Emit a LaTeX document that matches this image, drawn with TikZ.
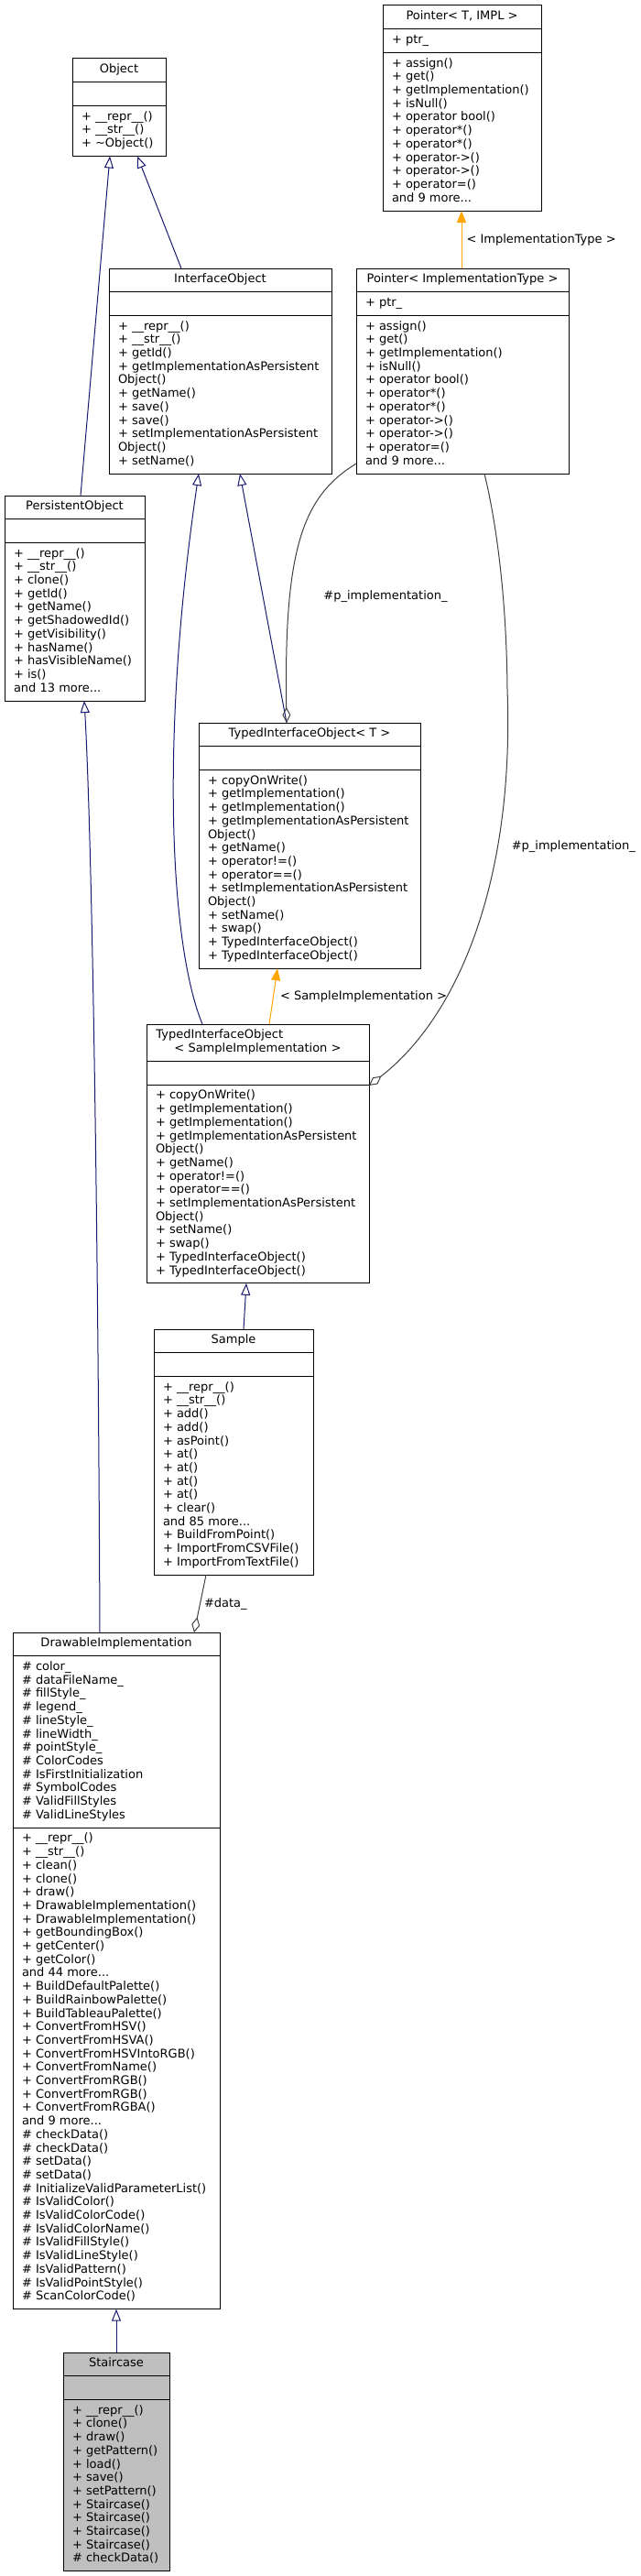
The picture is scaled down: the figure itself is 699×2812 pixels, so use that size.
\documentclass[tikz,border=0pt]{standalone}
\usepackage{fontspec}
\setmainfont{DejaVu Sans}
\usetikzlibrary{shapes.multipart,arrows.meta}
\definecolor{edgeblue}{HTML}{191970}
\definecolor{edgeorange}{HTML}{FFA500}
\definecolor{edgegray}{HTML}{404040}
\newcommand\memfont{\fontsize{13pt}{14.7pt}\selectfont}
\newcommand\rows[1]{\strut#1\strut}

\begin{document}
\begin{tikzpicture}[x=1pt, y=-1pt,
    classbox/.style={rectangle split, rectangle split parts=3, draw=black,
      line width=1pt, fill=white, anchor=north west, outer sep=0pt,
      inner xsep=10pt, inner ysep=5pt, font=\memfont, align=left,
      rectangle split part align={center,left,left}},
    inherit/.style={draw=edgeblue, line width=1pt,
      -{Triangle[open, length=13pt, width=10pt]}},
    templ/.style={draw=edgeorange, line width=1pt,
      -{Triangle[length=13pt, width=10pt]}},
    aggr/.style={draw=edgegray, line width=1pt,
      -{Diamond[open, length=17pt, width=9pt]}},
    elabel/.style={font=\memfont, inner sep=0pt}]
  \useasboundingbox (0,0) rectangle (699,2812);

  % classes
  \node[classbox, minimum width=102pt] (obj) at (79,64)
    {\rows{Object}
     \nodepart{two}\rows{}
     \nodepart{three}\rows{+ \_\_repr\_\_()\\ + \_\_str\_\_()\\ + \textasciitilde Object()}};

  \node[classbox, minimum width=173pt] (ptrT) at (418,6)
    {\rows{Pointer< T, IMPL >}
     \nodepart{two}\rows{+ ptr\_}
     \nodepart{three}\rows{+ assign()\\ + get()\\ + getImplementation()\\ + isNull()\\
       + operator bool()\\ + operator*()\\ + operator*()\\ + operator->()\\
       + operator->()\\ + operator=()\\ and 9 more...}};

  \node[classbox, minimum width=243pt] (iface) at (119,293)
    {\rows{InterfaceObject}
     \nodepart{two}\rows{}
     \nodepart{three}\rows{+ \_\_repr\_\_()\\ + \_\_str\_\_()\\ + getId()\\
       + getImplementationAsPersistent\\ Object()\\ + getName()\\ + save()\\ + save()\\
       + setImplementationAsPersistent\\ Object()\\ + setName()}};

  \node[classbox, minimum width=232pt] (ptrI) at (389,293)
    {\rows{Pointer< ImplementationType >}
     \nodepart{two}\rows{+ ptr\_}
     \nodepart{three}\rows{+ assign()\\ + get()\\ + getImplementation()\\ + isNull()\\
       + operator bool()\\ + operator*()\\ + operator*()\\ + operator->()\\
       + operator->()\\ + operator=()\\ and 9 more...}};

  \node[classbox, minimum width=153pt] (pers) at (5,541)
    {\rows{PersistentObject}
     \nodepart{two}\rows{}
     \nodepart{three}\rows{+ \_\_repr\_\_()\\ + \_\_str\_\_()\\ + clone()\\ + getId()\\
       + getName()\\ + getShadowedId()\\ + getVisibility()\\ + hasName()\\
       + hasVisibleName()\\ + is()\\ and 13 more...}};

  \node[classbox, minimum width=242pt] (tioT) at (217,789)
    {\rows{TypedInterfaceObject< T >}
     \nodepart{two}\rows{}
     \nodepart{three}\rows{+ copyOnWrite()\\ + getImplementation()\\ + getImplementation()\\
       + getImplementationAsPersistent\\ Object()\\ + getName()\\ + operator!=()\\
       + operator==()\\ + setImplementationAsPersistent\\ Object()\\ + setName()\\
       + swap()\\ + TypedInterfaceObject()\\ + TypedInterfaceObject()}};

  \node[classbox, minimum width=243pt] (tioS) at (160,1118)
    {\rows{\kern-20pt TypedInterfaceObject\\ < SampleImplementation >}
     \nodepart{two}\rows{}
     \nodepart{three}\rows{+ copyOnWrite()\\ + getImplementation()\\ + getImplementation()\\
       + getImplementationAsPersistent\\ Object()\\ + getName()\\ + operator!=()\\
       + operator==()\\ + setImplementationAsPersistent\\ Object()\\ + setName()\\
       + swap()\\ + TypedInterfaceObject()\\ + TypedInterfaceObject()}};

  \node[classbox, minimum width=174pt] (sample) at (168,1451)
    {\rows{Sample}
     \nodepart{two}\rows{}
     \nodepart{three}\rows{+ \_\_repr\_\_()\\ + \_\_str\_\_()\\ + add()\\ + add()\\
       + asPoint()\\ + at()\\ + at()\\ + at()\\ + at()\\ + clear()\\ and 85 more...\\
       + BuildFromPoint()\\ + ImportFromCSVFile()\\ + ImportFromTextFile()}};

  \node[classbox, minimum width=226pt] (drawable) at (14,1782)
    {\rows{DrawableImplementation}
     \nodepart{two}\rows{\# color\_\\ \# dataFileName\_\\ \# fillStyle\_\\ \# legend\_\\
       \# lineStyle\_\\ \# lineWidth\_\\ \# pointStyle\_\\ \# ColorCodes\\
       \# IsFirstInitialization\\ \# SymbolCodes\\ \# ValidFillStyles\\ \# ValidLineStyles}
     \nodepart{three}\rows{+ \_\_repr\_\_()\\ + \_\_str\_\_()\\ + clean()\\ + clone()\\
       + draw()\\ + DrawableImplementation()\\ + DrawableImplementation()\\
       + getBoundingBox()\\ + getCenter()\\ + getColor()\\ and 44 more...\\
       + BuildDefaultPalette()\\ + BuildRainbowPalette()\\ + BuildTableauPalette()\\
       + ConvertFromHSV()\\ + ConvertFromHSVA()\\ + ConvertFromHSVIntoRGB()\\
       + ConvertFromName()\\ + ConvertFromRGB()\\ + ConvertFromRGB()\\
       + ConvertFromRGBA()\\ and 9 more...\\ \# checkData()\\ \# checkData()\\
       \# setData()\\ \# setData()\\ \# InitializeValidParameterList()\\
       \# IsValidColor()\\ \# IsValidColorCode()\\ \# IsValidColorName()\\
       \# IsValidFillStyle()\\ \# IsValidLineStyle()\\ \# IsValidPattern()\\
       \# IsValidPointStyle()\\ \# ScanColorCode()}};

  \node[classbox, minimum width=116pt, fill=black!25] (stair) at (69,2568)
    {\rows{Staircase}
     \nodepart{two}\rows{}
     \nodepart{three}\rows{+ \_\_repr\_\_()\\ + clone()\\ + draw()\\ + getPattern()\\
       + load()\\ + save()\\ + setPattern()\\ + Staircase()\\ + Staircase()\\
       + Staircase()\\ + Staircase()\\ \# checkData()}};

  % inheritance
  \draw[inherit] ([xshift=83pt]pers.north west) -- ([xshift=41pt]obj.south west);
  \draw[inherit] ([xshift=79pt]iface.north west) -- ([xshift=71pt]obj.south west);
  \draw[inherit] ([xshift=96pt]tioT.north west) -- ([xshift=143pt]iface.south west);
  \draw[inherit] ([xshift=61pt]tioS.north west)
    .. controls +(-36,-88) and +(-42,285) .. ([xshift=98pt]iface.south west);
  \draw[inherit] ([xshift=95pt]drawable.north west)
    .. controls +(-2,-482) and +(8,137) .. ([xshift=87pt]pers.south west);
  \draw[inherit] ([xshift=98pt]sample.north west) -- ([xshift=109pt]tioS.south west);
  \draw[inherit] ([xshift=58pt]stair.north west) -- ([xshift=113pt]drawable.south west);

  % template instances
  \draw[templ] ([xshift=115pt]ptrI.north west) --
    node[elabel, right=5pt] {< ImplementationType >} ([xshift=86pt]ptrT.south west);
  \draw[templ] ([xshift=134pt]tioS.north west) --
    node[elabel, right=7pt] {< SampleImplementation >} ([xshift=86pt]tioT.south west);

  % members
  \draw[aggr] ([yshift=11pt]ptrI.south west)
    .. controls +(-59,36) and +(-3,-189) .. ([xshift=96pt]tioT.north west)
    node[elabel, pos=0.7, right=36pt] {\#p\_implementation\_};
  \draw[aggr] ([xshift=140pt]ptrI.south west)
    .. controls +(11,45) and +(-1,-110) .. ++(25,235)
    .. controls +(8,210) and +(97,-75) .. ([yshift=-67pt]tioS.north east)
    node[elabel, pos=0.3, right=15pt] {\#p\_implementation\_};
  \draw[aggr] ([xshift=57pt]sample.south west) --
    node[elabel, right=4pt] {\#data\_} ([xshift=198pt]drawable.north west);
\end{tikzpicture}
\end{document}
